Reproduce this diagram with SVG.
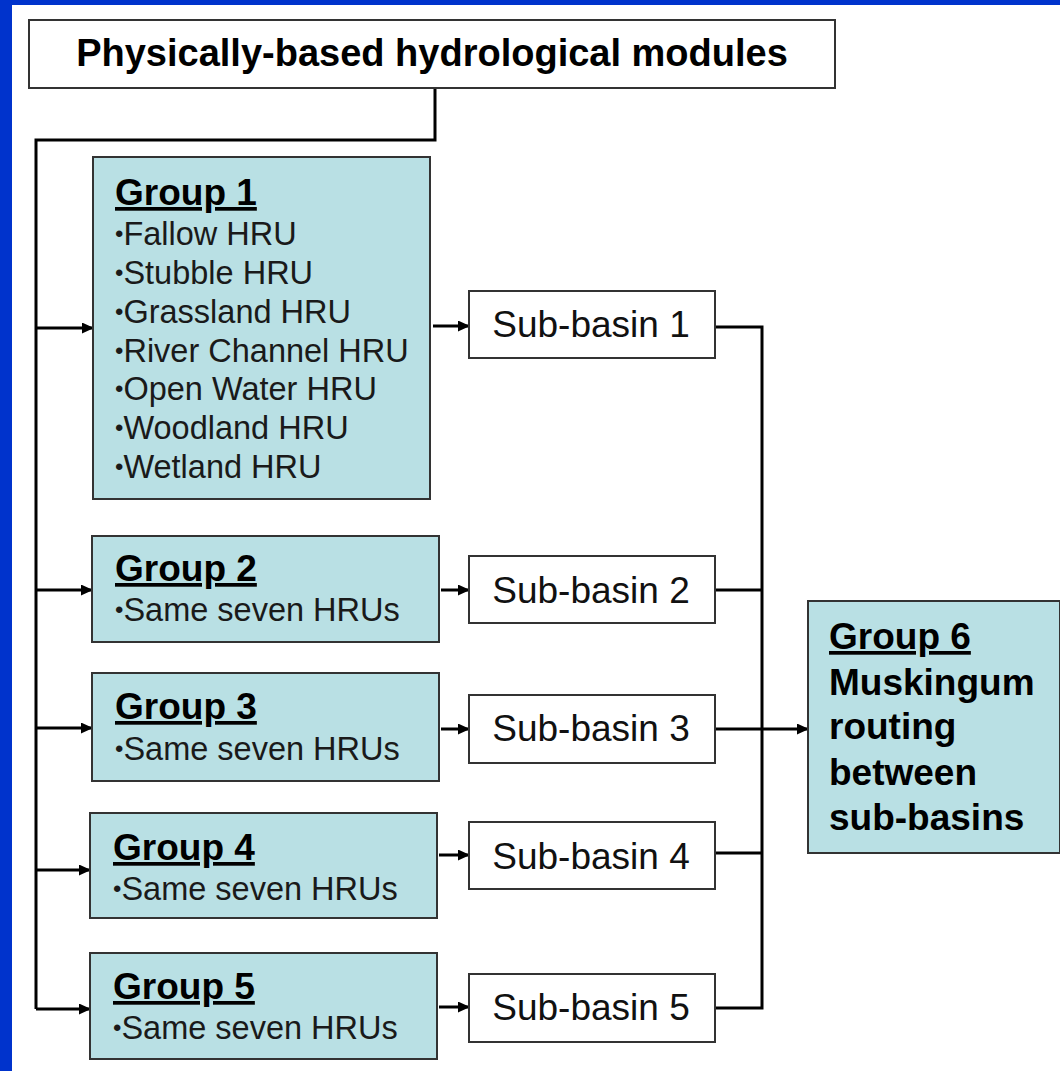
<svg xmlns="http://www.w3.org/2000/svg" width="1060" height="1071" viewBox="0 0 1060 1071">
  <style>
    .frame { fill: #0033cc; }
    .box { fill: #ffffff; stroke: #333333; stroke-width: 2; }
    .grp { fill: #b9e0e4; stroke: #333333; stroke-width: 2; }
    .wire { fill: none; stroke: #000000; stroke-width: 3; }
    .head { font-family: "Liberation Sans", Arial, sans-serif; font-weight: bold; font-size: 37px; fill: #000000; text-decoration: underline; }
    .item { font-family: "Liberation Sans", Arial, sans-serif; font-size: 32.5px; fill: #1a1a1a; }
    .dot { font-size: 24px; }
    .sub { font-family: "Liberation Sans", Arial, sans-serif; font-size: 37px; fill: #111111; text-anchor: middle; }
    .bold { font-family: "Liberation Sans", Arial, sans-serif; font-weight: bold; font-size: 37px; fill: #000000; }
    .title { font-size: 38px; }
  </style>
  <defs>
    <marker id="arrow" markerUnits="userSpaceOnUse" markerWidth="12" markerHeight="11" refX="11" refY="5.5" orient="auto">
      <path d="M0,0 L12,5.5 L0,11 Z" fill="#000000"/>
    </marker>
  </defs>

  <!-- page background and blue slide frame -->
  <rect x="0" y="0" width="1060" height="1071" fill="#ffffff"/>
  <rect class="frame" x="0" y="0" width="12" height="1071"/>
  <rect class="frame" x="0" y="0" width="1060" height="5"/>

  <!-- connectors -->
  <g id="connectors">
    <polyline class="wire" points="435,88 435,140 36,140 36,1009"/>
    <line class="wire" x1="36" y1="328" x2="93" y2="328" marker-end="url(#arrow)"/>
    <line class="wire" x1="36" y1="590" x2="92" y2="590" marker-end="url(#arrow)"/>
    <line class="wire" x1="36" y1="728" x2="92" y2="728" marker-end="url(#arrow)"/>
    <line class="wire" x1="36" y1="870" x2="90" y2="870" marker-end="url(#arrow)"/>
    <line class="wire" x1="36" y1="1009" x2="90" y2="1009" marker-end="url(#arrow)"/>

    <line class="wire" x1="433" y1="326" x2="469" y2="326" marker-end="url(#arrow)"/>
    <line class="wire" x1="441" y1="590" x2="469" y2="590" marker-end="url(#arrow)"/>
    <line class="wire" x1="441" y1="729" x2="469" y2="729" marker-end="url(#arrow)"/>
    <line class="wire" x1="439" y1="855" x2="469" y2="855" marker-end="url(#arrow)"/>
    <line class="wire" x1="439" y1="1007" x2="469" y2="1007" marker-end="url(#arrow)"/>

    <polyline class="wire" points="715,327 762,327 762,1008 715,1008"/>
    <line class="wire" x1="715" y1="590" x2="762" y2="590"/>
    <line class="wire" x1="715" y1="853" x2="762" y2="853"/>
    <line class="wire" x1="715" y1="729" x2="808" y2="729" marker-end="url(#arrow)"/>
  </g>

  <g id="modules">
    <rect class="box" x="29" y="20" width="806" height="68"/>
    <text class="bold title" x="432" y="66" text-anchor="middle">Physically-based hydrological modules</text>
  </g>

  <g id="group1">
    <rect class="grp" x="93" y="157" width="337" height="342"/>
    <text class="head" x="115" y="205">Group 1</text>
    <text class="item" x="115" y="245"><tspan class="dot" dy="-3">•</tspan><tspan dy="3">Fallow HRU</tspan></text>
    <text class="item" x="115" y="284"><tspan class="dot" dy="-3">•</tspan><tspan dy="3">Stubble HRU</tspan></text>
    <text class="item" x="115" y="323"><tspan class="dot" dy="-3">•</tspan><tspan dy="3">Grassland HRU</tspan></text>
    <text class="item" x="115" y="362"><tspan class="dot" dy="-3">•</tspan><tspan dy="3">River Channel HRU</tspan></text>
    <text class="item" x="115" y="400"><tspan class="dot" dy="-3">•</tspan><tspan dy="3">Open Water HRU</tspan></text>
    <text class="item" x="115" y="439"><tspan class="dot" dy="-3">•</tspan><tspan dy="3">Woodland HRU</tspan></text>
    <text class="item" x="115" y="478"><tspan class="dot" dy="-3">•</tspan><tspan dy="3">Wetland HRU</tspan></text>
  </g>

  <g id="group2">
    <rect class="grp" x="92" y="536" width="347" height="106"/>
    <text class="head" x="115" y="581">Group 2</text>
    <text class="item" x="115" y="621"><tspan class="dot" dy="-3">•</tspan><tspan dy="3">Same seven HRUs</tspan></text>
  </g>

  <g id="group3">
    <rect class="grp" x="92" y="673" width="347" height="108"/>
    <text class="head" x="115" y="719">Group 3</text>
    <text class="item" x="115" y="760"><tspan class="dot" dy="-3">•</tspan><tspan dy="3">Same seven HRUs</tspan></text>
  </g>

  <g id="group4">
    <rect class="grp" x="90" y="813" width="347" height="105"/>
    <text class="head" x="113" y="860">Group 4</text>
    <text class="item" x="113" y="900"><tspan class="dot" dy="-3">•</tspan><tspan dy="3">Same seven HRUs</tspan></text>
  </g>

  <g id="group5">
    <rect class="grp" x="90" y="953" width="347" height="106"/>
    <text class="head" x="113" y="999">Group 5</text>
    <text class="item" x="113" y="1039"><tspan class="dot" dy="-3">•</tspan><tspan dy="3">Same seven HRUs</tspan></text>
  </g>

  <g id="subbasin1">
    <rect class="box" x="469" y="291" width="246" height="67"/>
    <text class="sub" x="591" y="337">Sub-basin 1</text>
  </g>
  <g id="subbasin2">
    <rect class="box" x="469" y="556" width="246" height="67"/>
    <text class="sub" x="591" y="603">Sub-basin 2</text>
  </g>
  <g id="subbasin3">
    <rect class="box" x="469" y="695" width="246" height="68"/>
    <text class="sub" x="591" y="741">Sub-basin 3</text>
  </g>
  <g id="subbasin4">
    <rect class="box" x="469" y="822" width="246" height="67"/>
    <text class="sub" x="591" y="869">Sub-basin 4</text>
  </g>
  <g id="subbasin5">
    <rect class="box" x="469" y="974" width="246" height="68"/>
    <text class="sub" x="591" y="1020">Sub-basin 5</text>
  </g>

  <g id="group6">
    <rect class="grp" x="808" y="601" width="252" height="252"/>
    <text class="bold" x="829" y="649" text-decoration="underline">Group 6</text>
    <text class="bold" x="829" y="695">Muskingum</text>
    <text class="bold" x="829" y="739">routing</text>
    <text class="bold" x="829" y="785">between</text>
    <text class="bold" x="829" y="830">sub-basins</text>
  </g>
</svg>
